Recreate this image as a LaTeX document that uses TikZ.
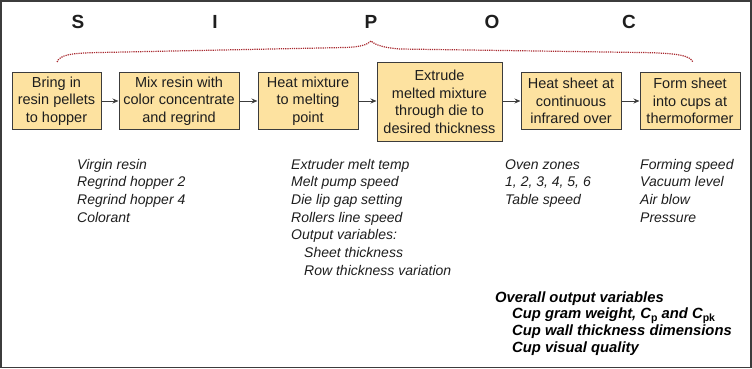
\documentclass[tikz,border=0pt]{standalone}
\usepackage{fontspec}
\setmainfont{Liberation Sans}
\usetikzlibrary{arrows.meta}
\definecolor{boxfill}{HTML}{FDE2A0}
\definecolor{boxline}{HTML}{3C3C3C}
\definecolor{bracered}{HTML}{A8282E}
\definecolor{txt}{HTML}{1E1E1E}
\tikzset{
  stepbox/.style={draw=boxline, fill=boxfill, line width=1pt, align=center, inner sep=0pt,
    font=\fontsize{14.5}{17.5}\selectfont, text=txt},
  flow/.style={draw=boxline, line width=0.9pt, -{Stealth[length=6pt,width=5pt]}},
  letter/.style={font=\fontsize{19}{19}\selectfont\bfseries, text=txt},
  listtxt/.style={anchor=base west, inner sep=0pt, font=\fontsize{14}{17.7}\selectfont\itshape, text=txt},
  boldlist/.style={anchor=base west, inner sep=0pt, font=\fontsize{14.8}{16.8}\selectfont\bfseries\itshape, text=black},
  bracepath/.style={draw=bracered, line width=1.2pt, densely dotted}
}
\newcommand{\sublow}[1]{\raisebox{-2.5pt}{\fontsize{10.5}{10.5}\selectfont\upshape\bfseries #1}}
\begin{document}
\begin{tikzpicture}[x=1pt,y=-1pt]
\useasboundingbox (0,0) rectangle (752,369);
\draw[boxline, line width=1.3pt] (1,1) rectangle (751,367.5);

% SIPOC letters
\node[letter] (S) at (78,22) {S};
\node[letter] (I) at (215,22) {I};
\node[letter] (P) at (371,22) {P};
\node[letter] (O) at (492,22) {O};
\node[letter] (C) at (629,22) {C};

% brace
\coordinate (bl) at (57,62);
\coordinate (bpk) at (371,41);
\coordinate (br) at (693,62);
\draw[bracepath] (bl) .. controls (60,55) and (70,53) .. (100,52.5) -- (345,47.5)
  .. controls (360,47) and (367,45) .. (bpk)
  .. controls (375,45) and (385,48) .. (400,49) -- (640,52.5)
  .. controls (680,53) and (690,56) .. (br);

% process boxes
\node[stepbox, minimum width=89pt, minimum height=56pt] (b1) at (56.5,101) {Bring in\\resin pellets\\to hopper};
\node[stepbox, minimum width=120pt, minimum height=56pt] (b2) at (179,101) {Mix resin with\\color concentrate\\and regrind};
\node[stepbox, minimum width=100pt, minimum height=56pt] (b3) at (308,101) {Heat mixture\\to melting\\point};
\node[stepbox, minimum width=125pt, minimum height=78pt] (b4) at (439.5,102) {Extrude\\melted mixture\\through die to\\desired thickness};
\node[stepbox, minimum width=100pt, minimum height=56pt] (b5) at (571,101) {Heat sheet at\\continuous\\infrared over};
\node[stepbox, minimum width=100pt, minimum height=56pt] (b6) at (690,101) {Form sheet\\into cups at\\thermoformer};

\draw[flow] (b1.east) -- (b2.west);
\draw[flow] (b2.east) -- (b3.west);
\draw[flow] (b3.east) -- (b4.west |- b3.east);
\draw[flow] (b4.east |- b5.west) -- (b5.west);
\draw[flow] (b5.east) -- (b6.west);

% variable lists
\node[listtxt] (l1) at (77,169) {\begin{tabular}[t]{@{}l@{}}Virgin resin\\Regrind hopper 2\\Regrind hopper 4\\Colorant\end{tabular}};
\node[listtxt] (l2) at (291,169) {\begin{tabular}[t]{@{}l@{}}Extruder melt temp\\Melt pump speed\\Die lip gap setting\\Rollers line speed\\Output variables:\\\hspace*{13pt}Sheet thickness\\\hspace*{13pt}Row thickness variation\end{tabular}};
\node[listtxt] (l3) at (505,169) {\begin{tabular}[t]{@{}l@{}}Oven zones\\1, 2, 3, 4, 5, 6\\Table speed\end{tabular}};
\node[listtxt] (l4) at (640,169) {\begin{tabular}[t]{@{}l@{}}Forming speed\\Vacuum level\\Air blow\\Pressure\end{tabular}};
\node[boldlist] (l5) at (495,302) {\begin{tabular}[t]{@{}l@{}}Overall output variables\\\hspace*{17pt}Cup gram weight, C\sublow{p} and C\sublow{pk}\\\hspace*{17pt}Cup wall thickness dimensions\\\hspace*{17pt}Cup visual quality\end{tabular}};
\end{tikzpicture}
\end{document}
